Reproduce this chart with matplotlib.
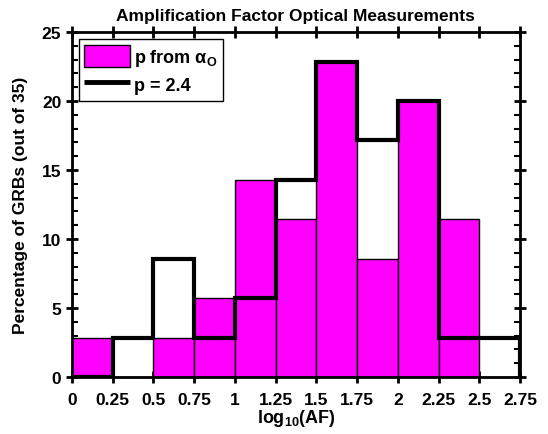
import numpy as np
import matplotlib.pyplot as plt
from matplotlib.patches import Patch
from matplotlib.lines import Line2D
from matplotlib.ticker import MultipleLocator

plt.rcParams['font.family'] = ['Liberation Sans', 'DejaVu Sans']
plt.rcParams['font.weight'] = 'bold'
plt.rcParams['mathtext.fontset'] = 'custom'
plt.rcParams['mathtext.rm'] = 'Liberation Sans:bold'
plt.rcParams['mathtext.it'] = 'Liberation Sans:bold'
plt.rcParams['mathtext.bf'] = 'Liberation Sans:bold'

# bin edges in log10(AF)
edges = np.arange(0, 2.76, 0.25)
n_total = 35
# counts per bin
counts_alpha = [1, 0, 1, 2, 5, 4, 8, 3, 7, 4, 0]
counts_p24 = [0, 1, 3, 1, 2, 5, 8, 6, 7, 1, 1]

pct_alpha = np.array(counts_alpha) / n_total * 100
pct_p24 = np.array(counts_p24) / n_total * 100

fig = plt.figure(figsize=(5.48, 4.35), dpi=100)
ax = fig.add_axes([0.131, 0.131, 0.818, 0.793])

ax.bar(edges[:-1], pct_alpha, width=0.25, align='edge', color='#ff00ff',
       edgecolor='black', linewidth=1, zorder=2)
ax.stairs(pct_p24, edges, color='black', linewidth=3, zorder=3)

ax.set_xlim(0, 2.75)
ax.set_ylim(0, 25)
ax.set_xticks(edges)
ax.set_xticklabels(['0', '0.25', '0.5', '0.75', '1', '1.25', '1.5', '1.75',
                    '2', '2.25', '2.5', '2.75'])
ax.yaxis.set_major_locator(MultipleLocator(5))
ax.yaxis.set_minor_locator(MultipleLocator(1))

ax.tick_params(which='major', direction='inout', length=8, width=2,
               top=True, right=True, labelsize=12.5)
ax.tick_params(axis='x', which='major', pad=7)
ax.tick_params(which='minor', direction='in', length=4, width=1.5,
               left=True, right=True)
for s in ax.spines.values():
    s.set_linewidth(2)

ax.set_xlabel(r'log$_{10}$(AF)', fontsize=13, fontweight='bold', labelpad=0)
ax.set_ylabel('Percentage of GRBs (out of 35)', fontsize=12.5, fontweight='bold',
              labelpad=10)
ax.set_title('Amplification Factor Optical Measurements', fontsize=12.5,
             fontweight='bold', pad=9)

handles = [Patch(facecolor='#ff00ff', edgecolor='black', linewidth=1),
           Line2D([0], [0], color='black', linewidth=3.5, solid_capstyle='butt')]
leg = ax.legend(handles, [r'p from $\alpha_O$', 'p = 2.4'], loc='upper left',
                fancybox=False, framealpha=1, edgecolor='black',
                prop={'weight': 'bold', 'size': 13}, borderaxespad=0.4,
                handlelength=2.5, handleheight=1.5, handletextpad=0.25,
                borderpad=0.3, labelspacing=0.3)
leg.get_frame().set_linewidth(1)

fig.savefig('out.png', dpi=100)
